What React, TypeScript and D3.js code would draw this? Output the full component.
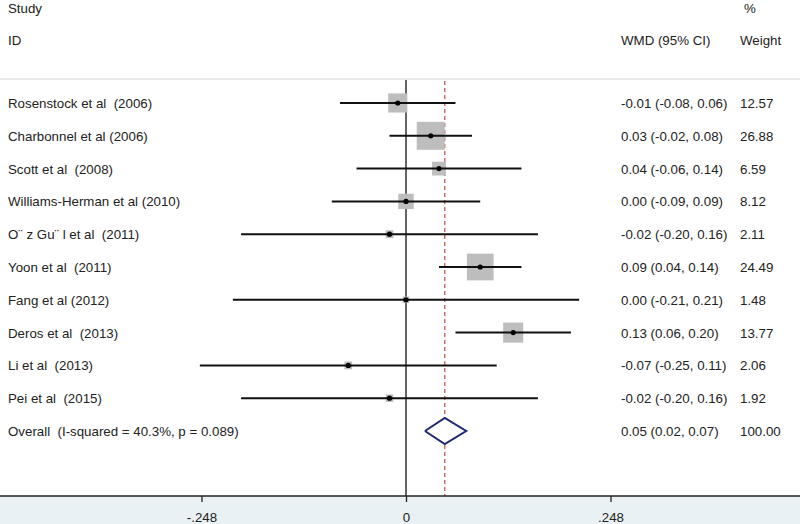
import React, { useEffect, useRef } from "react";
import * as d3 from "d3";

const studies = [
  "Rosenstock et al  (2006)",
  "Charbonnel et al (2006)",
  "Scott et al  (2008)",
  "Williams-Herman et al (2010)",
  "O¨ z Gu¨ l et al  (2011)",
  "Yoon et al  (2011)",
  "Fang et al (2012)",
  "Deros et al  (2013)",
  "Li et al  (2013)",
  "Pei et al  (2015)",
];
const wmd = [-0.01, 0.03, 0.04, 0.0, -0.02, 0.09, 0.0, 0.13, -0.07, -0.02];
const lower = [-0.08, -0.02, -0.06, -0.09, -0.2, 0.04, -0.21, 0.06, -0.25, -0.2];
const upper = [0.06, 0.08, 0.14, 0.09, 0.16, 0.14, 0.21, 0.2, 0.11, 0.16];
const weights = [12.57, 26.88, 6.59, 8.12, 2.11, 24.49, 1.48, 13.77, 2.06, 1.92];
const ciLabels = [
  "-0.01 (-0.08, 0.06)",
  "0.03 (-0.02, 0.08)",
  "0.04 (-0.06, 0.14)",
  "0.00 (-0.09, 0.09)",
  "-0.02 (-0.20, 0.16)",
  "0.09 (0.04, 0.14)",
  "0.00 (-0.21, 0.21)",
  "0.13 (0.06, 0.20)",
  "-0.07 (-0.25, 0.11)",
  "-0.02 (-0.20, 0.16)",
];
const weightLabels = ["12.57", "26.88", "6.59", "8.12", "2.11", "24.49", "1.48", "13.77", "2.06", "1.92"];
const overallLabel = "Overall  (I-squared = 40.3%, p = 0.089)";
const overall = { est: 0.047, lo: 0.023, hi: 0.073 };
const overallCI = "0.05 (0.02, 0.07)";
const overallWeight = "100.00";
const tickValues = [-0.248, 0, 0.248];
const tickLabels = ["-.248", "0", ".248"];

const W = 800;
const H = 524;

export default function App() {
  const ref = useRef<SVGSVGElement>(null);
  useEffect(() => {
    const svg = d3.select(ref.current);
    svg.selectAll("*").remove();
    const font = "'Liberation Sans', Arial, sans-serif";
    const textColor = "#222";
    const fs = 13.3;

    const x = d3.scaleLinear().domain([-0.248, 0.248]).range([201.5, 610.5]);
    const rowIdx = d3.range(studies.length + 1);
    const y = d3.scaleLinear().domain([0, 10]).range([103, 431]);
    const axisY = 496;
    const topY = 79;

    // background below axis
    svg.append("rect").attr("x", 0).attr("y", axisY).attr("width", W).attr("height", H - axisY).attr("fill", "#eaf1f4");

    const txt = (sel: any, xx: number, yy: number, s: string) =>
      sel.append("text").attr("x", xx).attr("y", yy).style("white-space", "pre").text(s);

    // header
    const hdr = svg.append("g").attr("font-family", font).attr("font-size", fs).attr("fill", textColor);
    txt(hdr, 8, 13, "Study");
    txt(hdr, 8, 45, "ID");
    txt(hdr, 621, 45, "WMD (95% CI)");
    txt(hdr, 740, 45, "Weight");
    txt(hdr, 744, 13, "%");

    // top separator
    svg.append("line").attr("x1", 0).attr("x2", W).attr("y1", topY).attr("y2", topY).attr("stroke", "#d6d6d6").attr("stroke-width", 1.2);

    // zero line
    svg.append("line").attr("x1", x(0)).attr("x2", x(0)).attr("y1", topY + 1).attr("y2", axisY).attr("stroke", "#111").attr("stroke-width", 1.3);

    // overall dashed line
    svg.append("line").attr("x1", x(overall.est)).attr("x2", x(overall.est)).attr("y1", topY + 2).attr("y2", axisY)
      .attr("stroke", "#c85a55").attr("stroke-width", 1.3).attr("stroke-dasharray", "4,3");

    const sizeScale = d3.scaleSqrt().domain([0, 26.88]).range([0, 28]);

    const g = svg.append("g");
    studies.forEach((s, i) => {
      const cy = y(i);
      const side = sizeScale(weights[i]);
      g.append("rect").attr("x", x(wmd[i]) - side / 2).attr("y", cy - side / 2).attr("width", side).attr("height", side).attr("fill", "#bdbdbd");
      g.append("line").attr("x1", x(lower[i])).attr("x2", x(upper[i])).attr("y1", cy).attr("y2", cy).attr("stroke", "#111").attr("stroke-width", 2);
      g.append("circle").attr("cx", x(wmd[i])).attr("cy", cy).attr("r", 2.6).attr("fill", "#000");
      const t = g.append("g").attr("font-family", font).attr("font-size", fs).attr("fill", textColor);
      txt(t, 8, cy + 5, s);
      txt(t, 621, cy + 5, ciLabels[i]);
      txt(t, 740, cy + 5, weightLabels[i]);
    });

    // overall
    const oy = y(rowIdx.length - 1);
    const diamond = d3.line<[number, number]>()([
      [x(overall.lo), oy],
      [x(overall.est), oy - 13],
      [x(overall.hi), oy],
      [x(overall.est), oy + 13],
      [x(overall.lo), oy],
    ]);
    svg.append("path").attr("d", diamond).attr("fill", "white").attr("stroke", "#1f2a6e").attr("stroke-width", 2).attr("stroke-linejoin", "miter");
    const ot = svg.append("g").attr("font-family", font).attr("font-size", fs).attr("fill", textColor);
    txt(ot, 8, oy + 5, overallLabel);
    txt(ot, 621, oy + 5, overallCI);
    txt(ot, 740, oy + 5, overallWeight);

    // axis
    svg.append("line").attr("x1", 0).attr("x2", W).attr("y1", axisY).attr("y2", axisY).attr("stroke", "#222").attr("stroke-width", 1.3);
    const axis = d3.axisBottom(x).tickValues(tickValues).tickSize(6).tickPadding(11)
      .tickFormat((d, i) => tickLabels[i]);
    const ag = svg.append("g").attr("transform", `translate(0,${axisY})`).call(axis);
    ag.select(".domain").remove();
    ag.selectAll(".tick line").attr("stroke", "#222").attr("stroke-width", 1.3);
    ag.selectAll(".tick text").attr("font-family", font).attr("font-size", fs).attr("fill", textColor);
  }, []);

  return (
    <svg
      ref={ref}
      width={W}
      height={H}
      style={{ position: "absolute", left: 0, top: 0, background: "white" }}
    />
  );
}
